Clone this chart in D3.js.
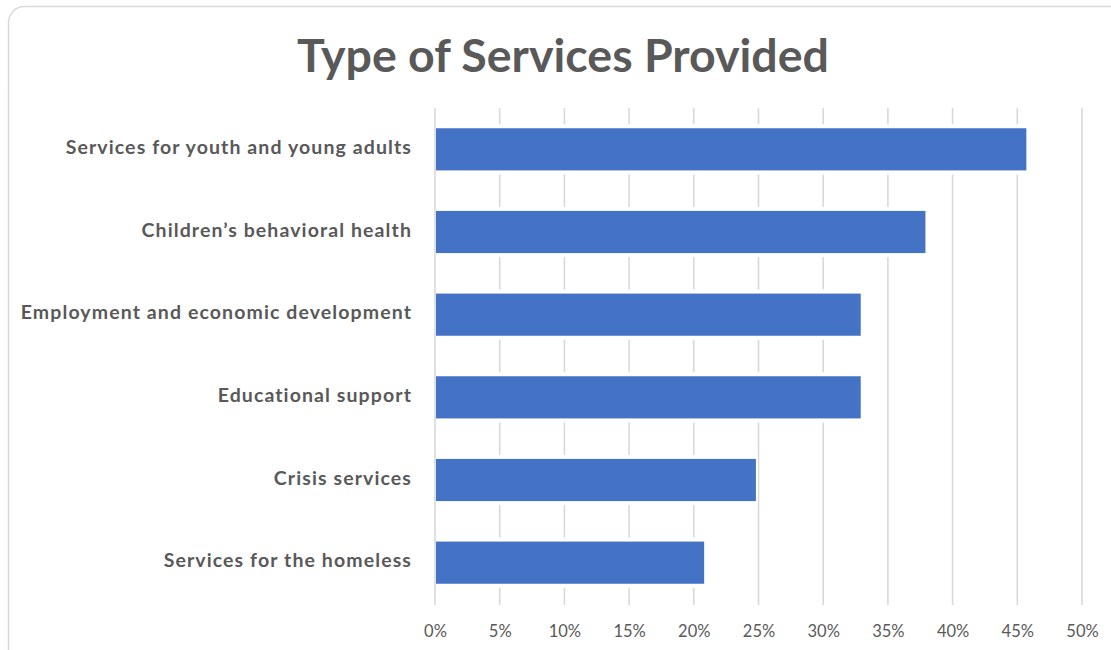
<!DOCTYPE html>
<html>
<head>
<meta charset="utf-8">
<script src="https://cdn.jsdelivr.net/npm/d3@7"></script>
<style>
  html, body { margin: 0; padding: 0; background: #ffffff; }
  svg { display: block; }
</style>
</head>
<body>
<svg id="chart" width="1111" height="650"></svg>
<script>
// Share of organisations offering each type of service
const categories = [
  "Services for youth and young adults",
  "Children\u2019s behavioral health",
  "Employment and economic development",
  "Educational support",
  "Crisis services",
  "Services for the homeless"
];
const shares = [0.457, 0.379, 0.329, 0.329, 0.248, 0.208];
const tickValues = [0, 0.05, 0.10, 0.15, 0.20, 0.25, 0.30, 0.35, 0.40, 0.45, 0.50];
const titleText = "Type of Services Provided";

const W = 1111, H = 650;
const plot = { left: 435, right: 1082, top: 108, bottom: 604 };
const textColor = "#595959";
const barColor = "#4472C4";
const gridColor = "#d9d9d9";
const fontFamily = "Lato, 'Open Sans', sans-serif";

const svg = d3.select("#chart");

// Card outline with rounded corners
svg.append("rect")
  .attr("x", 8.5).attr("y", 6.5)
  .attr("width", 1120).attr("height", 660)
  .attr("rx", 16).attr("ry", 16)
  .attr("fill", "#ffffff")
  .attr("stroke", gridColor)
  .attr("stroke-width", 1.5);

const x = d3.scaleLinear().domain([0, 0.5]).range([plot.left, plot.right]);
const y = d3.scaleBand().domain(categories)
  .range([plot.top, plot.bottom])
  .paddingInner(0.49).paddingOuter(0.245);

// Vertical gridlines
svg.append("g")
  .selectAll("line")
  .data(tickValues)
  .join("line")
  .attr("x1", d => x(d)).attr("x2", d => x(d))
  .attr("y1", plot.top).attr("y2", plot.bottom + 1)
  .attr("stroke", gridColor)
  .attr("stroke-width", 1.6);

// Bars, each with a thin white halo that breaks the gridlines
const bars = svg.append("g");
bars.selectAll("rect.halo")
  .data(categories)
  .join("rect")
  .attr("class", "halo")
  .attr("x", x(0) + 1)
  .attr("y", d => y(d) - 4)
  .attr("width", (d, i) => x(shares[i]) - x(0) + 1)
  .attr("height", y.bandwidth() + 8)
  .attr("fill", "#ffffff");
bars.selectAll("rect.bar")
  .data(categories)
  .join("rect")
  .attr("class", "bar")
  .attr("x", x(0) + 1)
  .attr("y", d => y(d))
  .attr("width", (d, i) => x(shares[i]) - x(0) - 1)
  .attr("height", y.bandwidth())
  .attr("fill", barColor);

// Category labels
const yAxis = svg.append("g")
  .attr("transform", `translate(${plot.left - 23},-1.5)`)
  .call(d3.axisLeft(y).tickSize(0).tickPadding(0));
yAxis.select(".domain").remove();
yAxis.selectAll("text")
  .attr("fill", textColor)
  .style("font-family", fontFamily)
  .style("font-weight", "bold")
  .style("font-size", "19.5px")
  .style("letter-spacing", "1.1px");

// Percentage tick labels
const xAxis = svg.append("g")
  .attr("transform", `translate(0,${plot.bottom + 21})`)
  .call(d3.axisBottom(x).tickValues(tickValues).tickFormat(d3.format(".0%")).tickSize(0).tickPadding(0));
xAxis.select(".domain").remove();
xAxis.selectAll("text")
  .attr("fill", textColor)
  .style("font-family", fontFamily)
  .style("font-size", "16.5px");

// Title
svg.append("text")
  .attr("x", 563).attr("y", 72)
  .attr("text-anchor", "middle")
  .attr("fill", textColor)
  .style("font-family", fontFamily)
  .style("font-weight", "bold")
  .style("font-size", "46.5px")
  .text(titleText);
</script>
</body>
</html>
